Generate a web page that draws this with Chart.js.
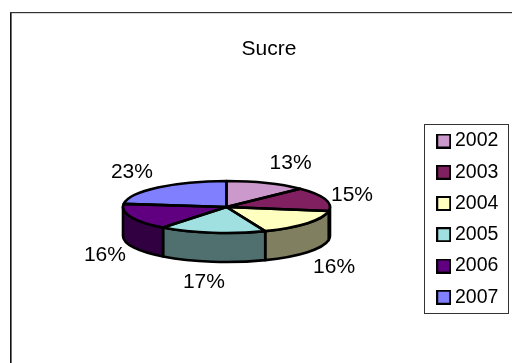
<!DOCTYPE html>
<html>
<head>
<meta charset="utf-8">
<style>html,body{margin:0;padding:0;background:#fff}canvas{display:block}</style>
<script src="https://cdn.jsdelivr.net/npm/chart.js@4"></script>
</head>
<body>
<div style="width:512px;height:363px"><canvas id="c" width="512" height="363"></canvas></div>
<script>
const categories = ['2002','2003','2004','2005','2006','2007'];
const sharePercent = [12.6,14.9,16.4,16.6,16.4,23.1];
const topColors = ['#CC99CC','#802060','#FFFFC0','#A0E0E0','#600080','#8080FF'];
const sideColors = ['#664D66','#401030','#808060','#507070','#300040','#404080'];
const labelNudgeX = [12,-3,2,-4,3,-5];
const labelNudgeY = [1.5,3,3,0.5,2,1.5];

const FONT = '"Liberation Sans", Arial, sans-serif';
const pie = {cx:226.5, cy:207, rx:103.5, ry:26, depth:29};

function swatch(color){
  const c = document.createElement('canvas');
  c.width = 15; c.height = 15;
  const x = c.getContext('2d');
  x.fillStyle = '#000'; x.fillRect(0,0,15,15);
  x.fillStyle = color; x.fillRect(2,2,11,11);
  return c;
}

const pie3d = {
  id:'pie3d',
  afterLayout(chart){
    const l = chart.legend, w = l.width, h = l.height;
    l.left = 430.5; l.right = l.left + w;
    l.top = 119.5; l.bottom = l.top + h;
  },
  beforeDraw(chart){
    const ctx = chart.ctx;
    ctx.save();
    ctx.fillStyle = '#fff'; ctx.fillRect(0,0,512,363);
    ctx.fillStyle = '#111';
    ctx.fillRect(10,12,1.6,351);
    ctx.fillStyle = '#333';
    ctx.fillRect(10,12,502,1.2);
    ctx.strokeStyle = '#333'; ctx.lineWidth = 1;
    ctx.strokeRect(424.5,124.5,84,189);
    ctx.restore();
  },
  beforeDatasetsDraw(chart){
    const ctx = chart.ctx, arcs = chart.getDatasetMeta(0).data;
    ctx.save();
    ctx.lineWidth = 2.6; ctx.strokeStyle = '#000'; ctx.lineJoin = 'round';
    arcs.forEach((a,i)=>{
      const lo = Math.max(a.startAngle,0), hi = Math.min(a.endAngle,Math.PI);
      if (lo >= hi) return;
      ctx.beginPath();
      ctx.ellipse(pie.cx,pie.cy,pie.rx,pie.ry,0,lo,hi);
      ctx.ellipse(pie.cx,pie.cy+pie.depth,pie.rx,pie.ry,0,hi,lo,true);
      ctx.closePath();
      ctx.fillStyle = sideColors[i];
      ctx.fill(); ctx.stroke();
    });
    ctx.restore();
    const a0 = arcs[0], r = a0.outerRadius;
    ctx.save();
    ctx.translate(pie.cx,pie.cy);
    ctx.scale(pie.rx/r,pie.ry/r);
    ctx.translate(-a0.x,-a0.y);
  },
  afterDatasetsDraw(chart){
    const ctx = chart.ctx, arcs = chart.getDatasetMeta(0).data;
    ctx.restore();
    ctx.save();
    ctx.lineWidth = 2.6; ctx.strokeStyle = '#000'; ctx.lineJoin = 'round';
    arcs.forEach(a=>{
      ctx.beginPath();
      ctx.moveTo(pie.cx,pie.cy);
      ctx.ellipse(pie.cx,pie.cy,pie.rx,pie.ry,0,a.startAngle,a.endAngle);
      ctx.closePath();
      ctx.stroke();
    });
    const total = sharePercent.reduce((s,v)=>s+v,0);
    ctx.fillStyle = '#000';
    ctx.font = '21px '+FONT;
    ctx.textAlign = 'center'; ctx.textBaseline = 'middle';
    arcs.forEach((a,i)=>{
      const mid = (a.startAngle+a.endAngle)/2 + Math.PI/2;
      const s = Math.sin(mid), c = Math.cos(mid);
      const x = pie.cx + 135*s + labelNudgeX[i];
      const y = pie.cy + (c > 0 ? -49*c : 28 - 47*c) + labelNudgeY[i];
      ctx.fillText(Math.round(sharePercent[i]/total*100)+'%',x,y);
    });
    ctx.restore();
  }
};

new Chart(document.getElementById('c'),{
  type:'pie',
  data:{labels:categories,datasets:[{data:sharePercent,backgroundColor:topColors,borderWidth:0,hoverOffset:0}]},
  plugins:[pie3d],
  options:{
    responsive:false,
    animation:false,
    events:[],
    layout:{padding:{left:26}},
    plugins:{
      tooltip:{enabled:false},
      title:{display:true,text:'Sucre',color:'#000',font:{family:FONT,size:21,weight:'normal'},padding:{top:37,bottom:10}},
      legend:{
        position:'right',align:'start',
        labels:{
          color:'#000',font:{family:FONT,size:19.5},padding:11.75,
          usePointStyle:true,pointStyleWidth:3,boxHeight:13,
          generateLabels(){
            return categories.map((t,i)=>({text:t,fillStyle:topColors[i],strokeStyle:'#000',lineWidth:0,pointStyle:swatch(topColors[i]),hidden:false,index:i,datasetIndex:0}));
          }
        }
      }
    }
  }
});
</script>
</body>
</html>
